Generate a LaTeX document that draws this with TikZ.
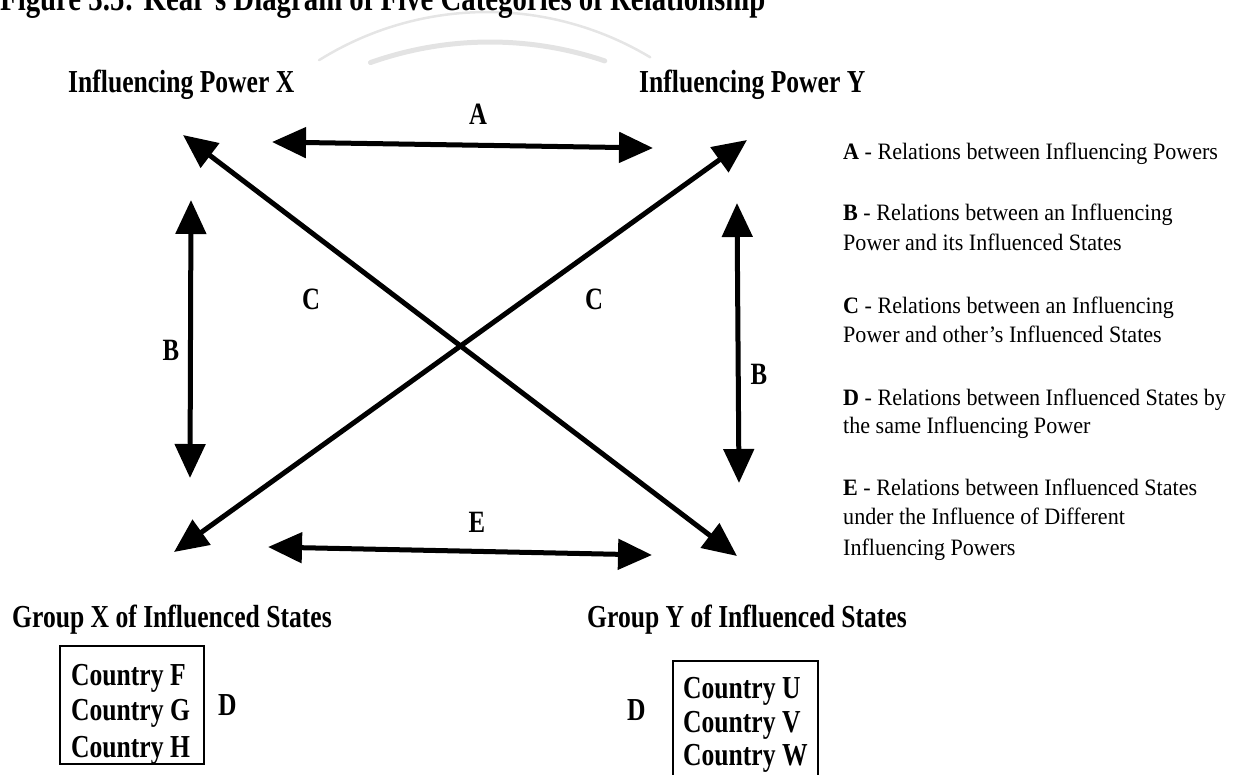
\documentclass[tikz,border=0pt]{standalone}
\usepackage{fontspec}
\setmainfont{Liberation Serif}
\newfontfamily\condf[FakeStretch=0.8]{Liberation Serif}
\newfontfamily\legf[FakeStretch=0.94]{Liberation Serif}
\usetikzlibrary{arrows.meta}
\begin{document}
\begin{tikzpicture}[x=1pt,y=-1pt,
  lbl/.style={font=\condf\bfseries\fontsize{32}{36}\selectfont, inner sep=0pt, anchor=base west},
  ltr/.style={font=\condf\bfseries\fontsize{31}{34}\selectfont, inner sep=0pt, anchor=base},
  leg/.style={font=\legf\fontsize{23.5}{30}\selectfont, inner sep=0pt, anchor=base west},
  rel/.style={line width=5pt, {Triangle[length=34pt,width=30pt]}-{Triangle[length=34pt,width=30pt]}},
  wmthin/.style={draw=gray!20, line width=2.5pt, line cap=round},
  wmthick/.style={draw=gray!22, line width=5pt, line cap=round},
  statebox/.style={draw, line width=1.2pt, inner sep=0pt}]
\useasboundingbox (0,0) rectangle (1241,774);

% watermark arcs
\draw[wmthin] plot[domain=238:301, samples=50] ({487+317*cos(\x)}, {329+317*sin(\x)});
\draw[wmthick] plot[domain=250.5:288.7, samples=50] ({490+358*cos(\x)}, {400+358*sin(\x)});

% title (clipped at top)
\node[font=\condf\bfseries\fontsize{36}{40}\selectfont, anchor=base west, inner sep=0pt] (title) at (0,10) {Figure 3.5: Kear’s Diagram of Five Categories of Relationship};

% headings
\node[lbl] (ipx) at (68,92) {Influencing Power X};
\node[lbl] (ipy) at (639,92) {Influencing Power Y};
\node[lbl] (gx) at (12,627) {Group X of Influenced States};
\node[lbl] (gy) at (587,627) {Group Y of Influenced States};

% arrow end points
\coordinate (aL) at (272,142);
\coordinate (aR) at (653,148);
\coordinate (d1a) at (183,135);
\coordinate (d1b) at (737,556);
\coordinate (d2a) at (747,140);
\coordinate (d2b) at (174,552);
\coordinate (bLt) at (191,200);
\coordinate (bLb) at (190,478);
\coordinate (bRt) at (737,203);
\coordinate (bRb) at (739,483);
\coordinate (eL) at (268,547);
\coordinate (eR) at (652,555);

\draw[rel] (aL) -- (aR);
\draw[rel] (d1a) -- (d1b);
\draw[rel] (d2a) -- (d2b);
\draw[rel] (bLt) -- (bLb);
\draw[rel] (bRt) -- (bRb);
\draw[rel] (eL) -- (eR);

% relation letters
\node[ltr] (lA) at (478,124) {A};
\node[ltr] (lB1) at (171,360) {B};
\node[ltr] (lC1) at (311,309) {C};
\node[ltr] (lC2) at (594,309) {C};
\node[ltr] (lB2) at (759,384) {B};
\node[ltr] (lE) at (477,532) {E};

% group X box
\node[statebox, minimum width=144pt, minimum height=118pt] (boxX) at (132,705) {};
\node[lbl] (cF) at (71,685) {Country F};
\node[lbl] (cG) at (71,720) {Country G};
\node[lbl] (cH) at (71,757) {Country H};
\node[lbl] (dX) at (218,715) {D};

% group Y box
\node[statebox, minimum width=145pt, minimum height=140pt] (boxY) at (745.5,731) {};
\node[lbl] (cU) at (683,698) {Country U};
\node[lbl] (cV) at (683,732) {Country V};
\node[lbl] (cW) at (683,765) {Country W};
\node[lbl] (dY) at (627,720) {D};

% legend
\node[leg] (legA) at (843,159) {\textbf{A} - Relations between Influencing Powers};
\node[leg] (legB1) at (843,220) {\textbf{B} - Relations between an Influencing};
\node[leg] (legB2) at (843,250) {Power and its Influenced States};
\node[leg] (legC1) at (843,313) {\textbf{C} - Relations between an Influencing};
\node[leg] (legC2) at (843,342) {Power and other’s Influenced States};
\node[leg] (legD1) at (843,405) {\textbf{D} - Relations between Influenced States by};
\node[leg] (legD2) at (843,433) {the same Influencing Power};
\node[leg] (legE1) at (843,495) {\textbf{E} - Relations between Influenced States};
\node[leg] (legE2) at (843,524) {under the Influence of Different};
\node[leg] (legE3) at (843,555) {Influencing Powers};
\end{tikzpicture}
\end{document}
